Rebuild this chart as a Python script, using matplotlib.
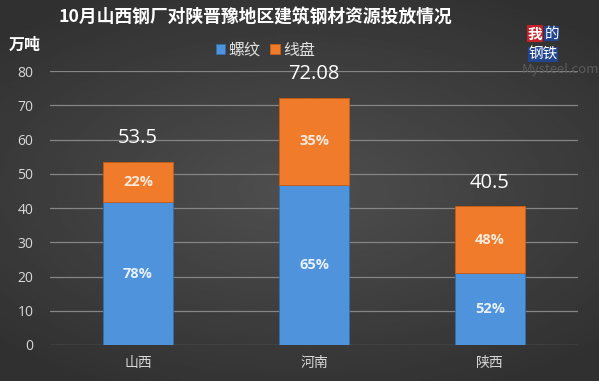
import numpy as np
import matplotlib
matplotlib.use('Agg')
from matplotlib import pyplot as plt

plt.rcParams['font.family'] = ['Noto Sans CJK SC', 'DejaVu Sans']

regions = ['山西', '河南', '陕西']
totals = [53.5, 72.08, 40.5]
rebar_pct = [78, 65, 52]
wire_pct = [22, 35, 48]
y_ticks = [0, 10, 20, 30, 40, 50, 60, 70, 80]

rebar = [t * p / 100 for t, p in zip(totals, rebar_pct)]
wire = [t - r for t, r in zip(totals, rebar)]

fig = plt.figure(figsize=(5.99, 3.81), dpi=100)

# dark radial background
bg = fig.add_axes([0, 0, 1, 1])
yy, xx = np.mgrid[-1:1:200j, -1:1:300j]
r = np.sqrt((xx * 0.9) ** 2 + (yy * 1.1) ** 2)
shade = 0.31 - 0.12 * np.clip(r, 0, 1.3) / 1.3
bg.imshow(shade, cmap='gray', vmin=0, vmax=1, aspect='auto', extent=[0, 1, 0, 1])
bg.axis('off')

ax = fig.add_axes([0.0835, 0.0945, 0.8815, 0.7191])
ax.patch.set_alpha(0)
x = np.arange(len(regions))
ax.bar(x, rebar, width=0.4, color='#4f93dc', edgecolor='#2f6fb0', linewidth=0.6,
       label='螺纹', zorder=3)
ax.bar(x, wire, width=0.4, bottom=rebar, color='#ef7b2b', edgecolor='#c95d15',
       linewidth=0.6, label='线盘', zorder=3)

for i in range(len(regions)):
    ax.text(x[i], rebar[i] / 2, f'{rebar_pct[i]}%', ha='center', va='center',
            color='#e8f0fa', fontsize=10.5, fontweight='bold', family='Open Sans', zorder=4)
    ax.text(x[i], rebar[i] + wire[i] / 2, f'{wire_pct[i]}%', ha='center', va='center',
            color='#fbeadc', fontsize=10.5, fontweight='bold', family='Open Sans', zorder=4)
    ax.text(x[i], totals[i] + 4, f'{totals[i]:g}', ha='center', va='bottom',
            color='white', fontsize=14.5, family='Open Sans', zorder=4)

ax.set_xlim(-0.5, 2.5)
ax.set_ylim(0, 80)
ax.set_yticks(y_ticks)
ax.set_xticks(x)
ax.set_xticklabels(regions)
ax.grid(axis='y', color='#858585', linewidth=0.9, zorder=0)
ax.tick_params(colors='#d8d8d8', labelsize=10, length=0)
ax.tick_params(axis='y', pad=12)
ax.tick_params(axis='x', pad=8)
for lbl in ax.get_yticklabels():
    lbl.set_family('Open Sans')
for s in ax.spines.values():
    s.set_visible(False)

fig.text(0.427, 0.953, '10月山西钢厂对陕晋豫地区建筑钢材资源投放情况', ha='center', va='center',
         color='white', fontsize=12.8, fontweight='bold')
fig.text(0.042, 0.882, '万吨', ha='center', va='center', color='white',
         fontsize=11.5, fontweight='bold')
fig.legend(loc='center', bbox_to_anchor=(0.443, 0.868), ncol=2, frameon=False,
           labelcolor='#e0e0e0', fontsize=11.5, handlelength=0.6, handleheight=0.6,
           handletextpad=0.2, columnspacing=0.6)

# logo
fig.text(0.893, 0.912, '我', ha='center', va='center', color='white', fontsize=10.5,
         fontweight='bold', bbox=dict(facecolor='#c8202b', edgecolor='none', pad=0.3))
fig.text(0.921, 0.912, '的', ha='center', va='center', color='white', fontsize=10.5,
         bbox=dict(facecolor='#22468e', edgecolor='none', pad=0.3))
fig.text(0.907, 0.858, '钢铁', ha='center', va='center', color='white', fontsize=10.5,
         bbox=dict(facecolor='#22468e', edgecolor='none', pad=0.3))
fig.text(0.935, 0.818, 'Mysteel.com', ha='center', va='center', color='#5a5a5a',
         fontsize=9.5)

fig.savefig('out.png', dpi=100)
